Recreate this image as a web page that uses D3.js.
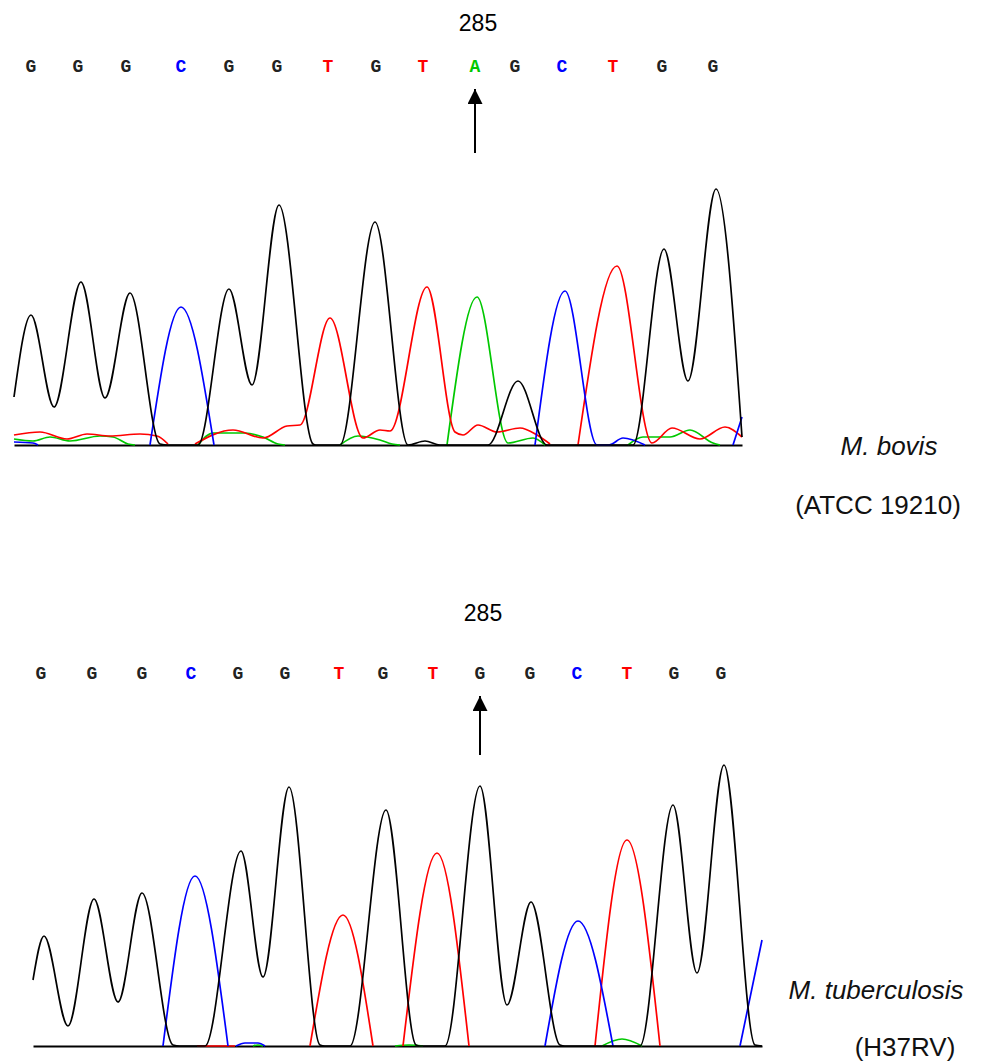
<!DOCTYPE html>
<html>
<head>
<meta charset="utf-8">
<script src="https://cdn.jsdelivr.net/npm/d3@7"></script>
<style>
  body { margin: 0; background: #fff; }
  svg { display: block; }
</style>
</head>
<body>
<div id="chart"></div>
<script>
// ---- data (scan units, intensity) ----
const markLabel = "285"
const markIndex = 9

// M. bovis (ATCC 19210)
const bovisBases = ["G", "G", "G", "C", "G", "G", "T", "G", "T", "A", "G", "C", "T", "G", "G"]
const bovisBasePos = [17, 64, 112, 167, 215, 263, 314, 362, 409, 461, 501, 548, 599, 648, 699]
const bovisG = [[0, 48], [17, 130], [40, 38], [67, 163], [91, 47], [116, 152], [146, 1], [154, 0], [169, 0], [184, 0],
    [215, 156], [238, 60], [265, 240], [299, 1], [302, 0], [326, 0], [361, 223], [394, 0], [411, 4], [426, 0],
    [474, 0], [504, 64], [533, 0], [619, 0], [650, 196], [674, 64], [702, 256], [728, 8]]
const bovisA = [[0, 6], [19, 4], [36, 8], [56, 4], [86, 9], [99, 8], [114, 1], [121, 0], null,
    [184, 0], [199, 12], [231, 12], [249, 8], [264, 1], [271, 0], null,
    [326, 0], [344, 9], [366, 5], [378, 1], [386, 0], null,
    [433, 0], [463, 148], [494, 2], [519, 7], [531, 0], null,
    [614, 0], [629, 8], [656, 8], [676, 15], [699, 2], [706, 0]]
const bovisT = [[0, 10], [26, 13], [53, 6], [73, 11], [96, 9], [126, 11], [143, 9], [154, 1], null,
    [181, 1], [219, 15], [249, 7], [273, 19], [286, 20], [316, 127], [349, 7], [366, 15], [376, 14],
    [413, 158], [441, 13], [449, 10], [464, 20], [483, 13], [506, 17], [523, 10], [536, 1], null,
    [564, 0], [603, 179], [638, 2], [658, 17], [686, 6], [711, 18], [728, 8]]
const bovisC = [[0, 3], [19, 2], [24, 0], null,
    [136, 0], [167, 138], [200, 0], null,
    [521, 0], [551, 154], [583, 0], [595, 0], [609, 7], [631, 0], null,
    [719, 0], [728, 28]]

// M. tuberculosis (H37RV)
const tbBases = ["G", "G", "G", "C", "G", "G", "T", "G", "T", "G", "G", "C", "T", "G", "G"]
const tbBasePos = [8, 59, 109, 158, 205, 252, 306, 350, 400, 447, 497, 544, 594, 641, 688]
const tbG = [[0, 66], [11, 110], [35, 20], [61, 147], [85, 44], [109, 153], [140, 1], [147, 0], [172, 0],
    [208, 195], [230, 69], [256, 259], [287, 1], [292, 0], [317, 0], [353, 236], [383, 1], [387, 0], [412, 0],
    [447, 260], [474, 41], [498, 144], [527, 1], [532, 0], [607, 0], [640, 241], [664, 73], [691, 281],
    [722, 1], [729, 0]]
const tbA = [[220, 0], [225, 1], [230, 0], null,
    [362, 0], [376, 1], [390, 0], null,
    [569, 0], [589, 7], [609, 0]]
const tbT = [[164, 0], [202, 0], null,
    [277, 0], [310, 131], [340, 0], null,
    [370, 0], [404, 193], [436, 0], null,
    [562, 0], [594, 206], [627, 0]]
const tbC = [[130, 0], [162, 170], [195, 0], null,
    [203, 0], [212, 3], [225, 3], [232, 0], null,
    [512, 0], [545, 125], [580, 0], null,
    [707, 0], [729, 106]]

const baseColor = { G: "#000000", A: "#00c800", T: "#ff0000", C: "#0000ff" }
const letterColor = { G: "#222222", A: "#00c800", T: "#ff0000", C: "#0000ff" }

const panels = [
    {
        bases: bovisBases, pos: bovisBasePos, span: 728,
        traces: { A: bovisA, T: bovisT, C: bovisC, G: bovisG },
        left: 14, baseline: 445, markY: 31, lettersY: 71, arrowTop: 89, arrowBottom: 153,
        labels: [["M. bovis", 889, 455, "italic"], ["(ATCC 19210)", 878, 514, "normal"]]
    },
    {
        bases: tbBases, pos: tbBasePos, span: 729,
        traces: { A: tbA, T: tbT, C: tbC, G: tbG },
        left: 33, baseline: 1046, markY: 621, lettersY: 678, arrowTop: 696, arrowBottom: 755,
        labels: [["M. tuberculosis", 876, 999, "italic"], ["(H37RV)", 905, 1056, "normal"]]
    }
]

const svg = d3.select("#chart")
    .append("svg")
    .attr("width", 984)
    .attr("height", 1064)

svg.append("defs").append("marker")
    .attr("id", "head")
    .attr("viewBox", "0 0 10 10")
    .attr("refX", 10)
    .attr("refY", 5)
    .attr("markerWidth", 7.5)
    .attr("markerHeight", 7.5)
    .attr("markerUnits", "strokeWidth")
    .attr("orient", "auto")
    .append("path")
    .attr("d", "M0,0L10,5L0,10Z")
    .attr("fill", "#000")

panels.forEach(p => {
    const x = d3.scaleLinear().domain([0, p.span]).range([p.left, p.left + p.span])
    const y = d3.scaleLinear().domain([0, 300]).range([p.baseline, p.baseline - 300])

    const g = svg.append("g")

    // baseline
    g.append("g")
        .attr("transform", `translate(0, ${p.baseline})`)
        .call(d3.axisBottom(x).ticks(0).tickSizeOuter(0))
        .call(a => a.select(".domain").attr("stroke", "#000").attr("stroke-width", 2))

    const line = d3.line()
        .defined(d => d !== null)
        .x(d => x(d[0]))
        .y(d => y(d[1]))
        .curve(d3.curveMonotoneX)

    Object.entries(p.traces).forEach(([base, pts]) => {
        g.append("path")
            .attr("d", line(pts))
            .attr("fill", "none")
            .attr("stroke", baseColor[base])
            .attr("stroke-width", 1.7)
            .attr("stroke-linejoin", "round")
    })

    // base calls
    g.selectAll(".base")
        .data(p.bases)
        .enter()
        .append("text")
        .attr("class", "base")
        .attr("x", (d, i) => x(p.pos[i]))
        .attr("y", p.lettersY + 1)
        .attr("text-anchor", "middle")
        .attr("font-family", "Liberation Mono, monospace")
        .attr("font-weight", "bold")
        .attr("font-size", 18)
        .attr("fill", d => letterColor[d])
        .text(d => d)

    // position marker
    const mx = x(p.pos[markIndex])
    g.append("text")
        .attr("x", mx + 3)
        .attr("y", p.markY)
        .attr("text-anchor", "middle")
        .attr("font-family", "Liberation Sans, Arial, sans-serif")
        .attr("font-size", 23)
        .attr("fill", "#000")
        .text(markLabel)

    g.append("line")
        .attr("x1", mx)
        .attr("x2", mx)
        .attr("y1", p.arrowBottom)
        .attr("y2", p.arrowTop)
        .attr("stroke", "#000")
        .attr("stroke-width", 2)
        .attr("marker-end", "url(#head)")

    // species labels
    p.labels.forEach(([t, lx, ly, style]) => {
        g.append("text")
            .attr("x", lx)
            .attr("y", ly)
            .attr("text-anchor", "middle")
            .attr("font-family", "Liberation Sans, Arial, sans-serif")
            .attr("font-size", 26)
            .attr("font-style", style)
            .attr("fill", "#111")
            .text(t)
    })
})
</script>
</body>
</html>
